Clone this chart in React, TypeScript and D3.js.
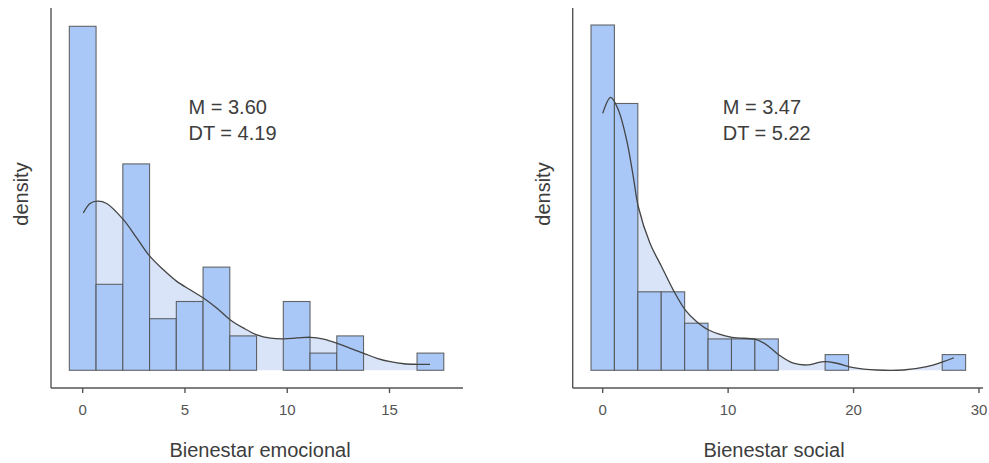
import React from "react";
import * as d3 from "d3";

// ---------- DATA ----------
// Bienestar emocional: histogram (14 bins centred on k * 17/13)
const emoBinWidth = 17 / 13;
const emoCounts = [20, 5, 12, 3, 4, 6, 2, 0, 4, 1, 2, 0, 0, 1];
const emoTicks = [0, 5, 10, 15];
// density curve (scaled to the count axis)
const emoDensX = [0.03, 0.36, 0.72, 1.17, 1.99, 2.64, 3.29, 3.94, 4.6, 5.25, 5.9, 6.55, 7.22, 7.87, 8.52, 9.18, 9.83, 10.48, 11.15, 11.78, 12.44, 13.09, 13.74, 14.39, 15.04, 15.7, 16.36, 16.98];
const emoDensY = [9.15, 9.7, 9.83, 9.7, 8.76, 7.7, 6.62, 5.85, 5.17, 4.68, 4.2, 3.62, 2.93, 2.45, 2.06, 1.87, 1.83, 1.88, 1.92, 1.81, 1.57, 1.28, 0.99, 0.7, 0.5, 0.38, 0.35, 0.35];
const emoStats = ["M = 3.60", "DT = 4.19"];
const emoTitle = "Bienestar emocional";

// Bienestar social: histogram (16 bins centred on k * 28/15)
const socBinWidth = 28 / 15;
const socCounts = [22, 17, 5, 5, 3, 2, 2, 2, 0, 0, 1, 0, 0, 0, 0, 1];
const socTicks = [0, 10, 20, 30];
const socDensX = [0, 0.64, 1.25, 1.91, 2.44, 2.84, 3.77, 4.7, 5.63, 6.59, 7.5, 8.45, 10.31, 12.2, 13.08, 14.06, 15.2, 16.27, 17.6, 18.66, 19.99, 21.85, 23.97, 25.84, 27.16, 28.0];
const socDensY = [16.37, 17.39, 16.58, 14.67, 12.33, 10.42, 8.09, 6.6, 5.11, 3.84, 3.1, 2.57, 2.1, 1.97, 1.61, 0.97, 0.45, 0.34, 0.55, 0.45, 0.17, 0.02, 0.02, 0.23, 0.55, 0.8];
const socStats = ["M = 3.47", "DT = 5.22"];
const socTitle = "Bienestar social";

const yLabel = "density";

// ---------- STYLE ----------
const FONT = "'Liberation Sans', Arial, Helvetica, sans-serif";
const BAR_FILL = "#a9c8f7";
const AREA_FILL = "#d9e4f8";
const BAR_STROKE = "#4d4d4d";
const AXIS = "#555";
const TEXT = "#3d3d3d";

type PanelProps = {
  axisX: number;
  axisY: number;
  axisTop: number;
  axisRight: number;
  xDomain: [number, number];
  xRange: [number, number];
  yMax: number;
  yTopPx: number;
  baseline: number;
  binWidth: number;
  counts: number[];
  ticks: number[];
  densX: number[];
  densY: number[];
  stats: string[];
  statsX: number;
  title: string;
  titleX: number;
};

function Panel(p: PanelProps) {
  const x = d3.scaleLinear().domain(p.xDomain).range(p.xRange);
  const y = d3.scaleLinear().domain([0, p.yMax]).range([p.baseline, p.yTopPx]);
  const pts = p.densX.map((v, i) => [v, p.densY[i]] as [number, number]);
  const area = d3
    .area<[number, number]>()
    .x((d) => x(d[0]))
    .y0(y(0))
    .y1((d) => y(d[1]))
    .curve(d3.curveCatmullRom);
  const line = d3
    .line<[number, number]>()
    .x((d) => x(d[0]))
    .y((d) => y(d[1]))
    .curve(d3.curveCatmullRom);

  return (
    <g>
      <path d={area(pts) || ""} fill={AREA_FILL} stroke="none" />
      {p.counts.map((c, i) => {
        const c0 = i * p.binWidth - p.binWidth / 2;
        const c1 = i * p.binWidth + p.binWidth / 2;
        const x0 = x(c0);
        const x1 = x(c1);
        const yt = y(c);
        return (
          <g key={i}>
            {c > 0 && (
              <rect x={x0} y={yt} width={x1 - x0} height={y(0) - yt} fill={BAR_FILL} />
            )}
            <rect
              x={x0}
              y={yt}
              width={x1 - x0}
              height={y(0) - yt}
              fill="none"
              stroke={BAR_STROKE}
              strokeOpacity={0.85}
              strokeWidth={1.1}
            />
          </g>
        );
      })}
      <path d={line(pts) || ""} fill="none" stroke="#444" strokeWidth={1.3} />
      {/* axes */}
      <line x1={p.axisX} x2={p.axisX} y1={p.axisTop} y2={p.axisY} stroke={AXIS} strokeWidth={1.4} />
      <line x1={p.axisX} x2={p.axisRight} y1={p.axisY} y2={p.axisY} stroke={AXIS} strokeWidth={1.4} />
      {p.ticks.map((t) => (
        <g key={t}>
          <line x1={x(t)} x2={x(t)} y1={p.axisY} y2={p.axisY + 5} stroke={AXIS} strokeWidth={1.4} />
          <text
            x={x(t)}
            y={415}
            textAnchor="middle"
            fontFamily={FONT}
            fontSize={15}
            fill="#555"
          >
            {t}
          </text>
        </g>
      ))}
      <text x={p.titleX} y={457} textAnchor="middle" fontFamily={FONT} fontSize={20} fill={TEXT}>
        {p.title}
      </text>
      <text
        transform={`translate(${p.axisX - 23},${194}) rotate(-90)`}
        textAnchor="middle"
        fontFamily={FONT}
        fontSize={20}
        fill={TEXT}
      >
        {yLabel}
      </text>
      {p.stats.map((s, i) => (
        <text key={s} x={p.statsX} y={114 + i * 25.5} fontFamily={FONT} fontSize={20} fill={TEXT}>
          {s}
        </text>
      ))}
    </g>
  );
}

export default function App() {
  return (
    <svg
      width={989}
      height={463}
      style={{ position: "absolute", left: 0, top: 0, background: "#fff" }}
    >
      <rect width={989} height={463} fill="#fff" />
      <Panel
        axisX={51}
        axisY={388}
        axisTop={8}
        axisRight={463}
        xDomain={[0, 15]}
        xRange={[82.7, 389.5]}
        yMax={20}
        yTopPx={26.3}
        baseline={370.3}
        binWidth={emoBinWidth}
        counts={emoCounts}
        ticks={emoTicks}
        densX={emoDensX}
        densY={emoDensY}
        stats={emoStats}
        statsX={188.5}
        title={emoTitle}
        titleX={260}
      />
      <Panel
        axisX={572.7}
        axisY={388}
        axisTop={8}
        axisRight={983}
        xDomain={[0, 30]}
        xRange={[602.7, 979]}
        yMax={22}
        yTopPx={25}
        baseline={370.3}
        binWidth={socBinWidth}
        counts={socCounts}
        ticks={socTicks}
        densX={socDensX}
        densY={socDensY}
        stats={socStats}
        statsX={722.7}
        title={socTitle}
        titleX={774}
      />
    </svg>
  );
}
